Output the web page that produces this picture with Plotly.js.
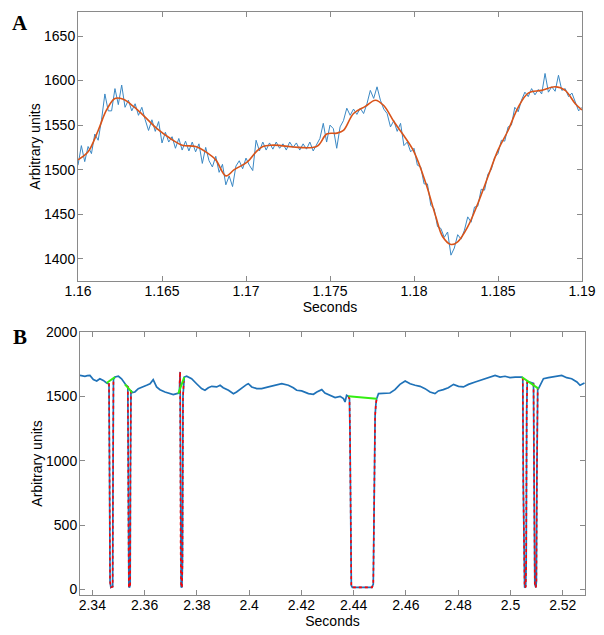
<!DOCTYPE html>
<html>
<head>
<meta charset="utf-8">
<script src="https://cdn.plot.ly/plotly-3.0.1.min.js"></script>
<style>html,body{margin:0;padding:0;background:#fff;}</style>
</head>
<body>
<div id="chart" style="width:604px;height:635px;"></div>
<script>
// ---------- Panel A: raw signal (sampled every 0.2 ms from 1.16 s) ----------
const panelASampleStart = 1.16;
const panelASampleStep = 0.0002;
const panelARaw = [
  1505,1527,1509,1526,1518,1540,1533,1556,1585,1566,
  1566,1591,1573,1595,1570,1578,1566,1574,1561,1570,
  1556,1544,1556,1543,1554,1530,1542,1531,1537,1524,
  1535,1522,1532,1521,1531,1520,1529,1507,1525,1510,
  1503,1515,1497,1506,1483,1493,1481,1504,1510,1501,
  1513,1505,1499,1533,1521,1531,1522,1530,1523,1531,
  1524,1529,1522,1531,1525,1530,1522,1529,1523,1531,
  1521,1528,1535,1552,1531,1550,1546,1524,1548,1555,
  1569,1561,1568,1562,1569,1563,1574,1589,1580,1593,
  1578,1568,1563,1548,1555,1543,1552,1527,1531,1520,
  1524,1505,1503,1484,1484,1460,1456,1436,1434,1424,
  1430,1404,1412,1427,1422,1432,1447,1441,1458,1459,
  1478,1477,1495,1500,1514,1518,1533,1532,1548,1550,
  1570,1565,1578,1587,1582,1591,1584,1590,1585,1608,
  1587,1593,1588,1606,1589,1591,1582,1586,1575,1566,
  1570
];
// ---------- Panel A: smooth fit ----------
const panelAFitTime = [
  1.1600,1.1606,1.1612,1.1617,1.1622,1.1627,1.1633,1.1640,1.1647,1.1655,
  1.1662,1.1670,1.1676,1.1682,1.1688,1.1693,1.1701,1.1706,1.1710,1.1716,
  1.1742,1.1748,1.1754,1.1758,1.1764,1.1771,1.1777,1.1782,1.1788,1.1794,
  1.1800,1.1807,1.1813,1.1817,1.1822,1.1826,1.1832,1.1838,1.1844,1.1850,
  1.1856,1.1862,1.1868,1.1876,1.1884,1.1890,1.1896,1.1900
];
const panelAFitValue = [
  1511,1520,1544,1567,1580,1579,1571,1559,1546,1535,
  1527.5,1526,1520,1511,1493,1500,1509,1520,1526,1527.5,
  1526,1540,1541,1544,1563,1571,1578,1572,1554,1538,
  1520,1485,1447,1425,1416,1419,1436,1462,1492,1522,
  1544,1570,1586,1589,1593,1589,1574,1567
];
const panelATickVals = [1.16,1.165,1.17,1.175,1.18,1.185,1.19];
const panelATickText = ['1.16','1.165','1.17','1.175','1.18','1.185','1.19'];
const panelAYTicks = [1400,1450,1500,1550,1600,1650];

// ---------- Panel B: signal with dropouts ----------
const panelBTime = [
  2.3353,2.3362,2.3372,2.3381,2.3391,2.3404,2.3417,2.3429,2.3442,2.3455,2.3460,2.3464,
  2.3466,2.3468,2.3471,2.3475,2.3478,2.3479,2.3481,
  2.3487,2.3500,2.3512,2.3525,2.3530,2.3536,
  2.3538,2.3540,2.3543,2.3545,2.3546,2.3548,
  2.3553,2.3563,2.3576,2.3589,2.3608,2.3621,2.3633,2.3646,2.3659,2.3678,2.3697,2.3710,2.3723,2.3729,
  2.3733,2.3736,2.3738,2.3740,2.3743,2.3745,2.3747,
  2.3752,2.3761,2.3780,2.3799,2.3818,2.3831,2.3844,2.3857,2.3876,2.3889,2.3901,2.3921,2.3940,2.3952,2.3972,2.3991,
  2.3997,2.4010,2.4029,2.4048,2.4074,2.4099,2.4125,2.4150,2.4169,2.4182,2.4201,2.4227,2.4246,2.4259,2.4278,2.4290,2.4310,2.4329,2.4348,2.4361,2.4367,2.4373,2.4380,
  2.4384,2.4386,2.4388,2.4391,2.4395,2.4430,2.4470,2.4475,2.4477,2.4479,2.4482,2.4485,2.4488,
  2.4495,2.4514,2.4539,2.4558,2.4577,2.4597,2.4616,2.4635,2.4654,2.4673,2.4692,2.4711,2.4724,2.4743,2.4762,2.4782,2.4801,2.4820,2.4839,2.4865,2.4884,2.4903,2.4922,2.4941,2.4960,2.4979,2.4998,2.5018,2.5043,
  2.5047,2.5049,2.5051,2.5054,2.5058,2.5060,2.5062,2.5064,2.5070,2.5080,2.5088,
  2.5090,2.5093,2.5097,2.5099,2.5101,2.5104,
  2.5107,2.5117,2.5126,2.5145,2.5171,2.5196,2.5215,2.5234,2.5254,2.5266,2.5283
];
const panelBValue = [
  1663,1660,1656,1661,1663,1630,1619,1637,1624,1604,1600,1596,
  900,60,15,18,20,700,1630,
  1650,1656,1637,1593,1585,1575,
  600,20,15,40,900,1545,
  1529,1534,1560,1573,1586,1598,1630,1573,1552,1534,1521,1513,1521,1521,
  1525,1690,300,20,15,200,1500,
  1650,1656,1637,1598,1560,1547,1567,1578,1573,1586,1567,1547,1521,1534,1567,1593,
  1598,1573,1560,1560,1573,1586,1598,1586,1567,1547,1542,1521,1516,1534,1552,1526,1508,1490,1500,1482,1456,1508,1500,
  1480,1200,200,30,15,15,15,40,400,1100,1350,1440,1482,
  1521,1521,1526,1552,1593,1619,1598,1586,1578,1560,1534,1521,1542,1552,1567,1593,1578,1573,1593,1612,1624,1637,1645,1663,1650,1656,1645,1650,1650,
  1640,800,60,15,20,200,1400,1615,1612,1605,1600,
  900,40,15,60,900,1560,
  1560,1598,1637,1645,1656,1663,1645,1637,1612,1586,1604
];
// detected dropout samples (red), null separates events
const dropTime = [
  2.3462,2.3464,2.3466,2.3468,2.3471,2.3475,2.3478,2.3479,2.3481,null,
  2.3533,2.3536,2.3538,2.3540,2.3543,2.3545,2.3546,2.3548,null,
  2.3734,2.3736,2.3738,2.3740,2.3743,2.3745,2.3747,2.3750,null,
  2.4380,2.4384,2.4386,2.4388,2.4391,2.4395,2.4430,2.4470,2.4475,2.4477,2.4479,2.4482,2.4485,2.4488,null,
  2.5045,2.5047,2.5049,2.5051,2.5054,2.5058,2.5060,2.5062,2.5064,null,
  2.5088,2.5090,2.5093,2.5097,2.5099,2.5101,2.5104
];
const dropValue = [
  1598,1596,900,60,15,18,20,700,1630,null,
  1580,1575,600,20,15,40,900,1545,null,
  1600,1690,300,20,15,200,1500,1620,null,
  1500,1480,1200,200,30,15,15,15,40,400,1100,1350,1440,1482,null,
  1645,1640,800,60,15,20,200,1400,1615,null,
  1600,900,40,15,60,900,1560
];
// bridging segments (green)
const bridgeTime = [2.3455,2.3487,null,2.3525,2.3553,null,2.3729,2.3752,null,2.4380,2.4488,null,2.5043,2.5107];
const bridgeValue = [1604,1650,null,1593,1529,null,1521,1650,null,1500,1482,null,1650,1560];
const panelBTickVals = [2.34,2.36,2.38,2.4,2.42,2.44,2.46,2.48,2.5,2.52];
const panelBTickText = ['2.34','2.36','2.38','2.4','2.42','2.44','2.46','2.48','2.5','2.52'];
const panelBYTicks = [0,500,1000,1500,2000];

const panelATime = panelARaw.map((_, i) => +(panelASampleStart + i * panelASampleStep).toFixed(5));

const traces = [
  {x: panelATime, y: panelARaw, xaxis:'x', yaxis:'y', mode:'lines', line:{color:'#3a88c4', width:1}, hoverinfo:'skip'},
  {x: panelAFitTime, y: panelAFitValue, xaxis:'x', yaxis:'y', mode:'lines', line:{color:'#D95319', width:1.6, shape:'spline'}, hoverinfo:'skip'},
  {x: panelBTime, y: panelBValue, xaxis:'x2', yaxis:'y2', mode:'lines', line:{color:'#1f72b8', width:1.7}, hoverinfo:'skip'},
  {x: dropTime, y: dropValue, xaxis:'x2', yaxis:'y2', mode:'lines', connectgaps:false, line:{color:'#ff0000', width:1.6, dash:'dot'}, hoverinfo:'skip'},
  {x: bridgeTime, y: bridgeValue, xaxis:'x2', yaxis:'y2', mode:'lines', connectgaps:false, line:{color:'#33ee11', width:2}, hoverinfo:'skip'}
];

const axisCommon = {
  showline:true, linecolor:'#8a8a8a', linewidth:1, mirror:'ticks',
  ticks:'inside', ticklen:5, tickcolor:'#8a8a8a', tickwidth:1,
  showgrid:false, zeroline:false,
  tickfont:{family:'Liberation Sans, Arial, sans-serif', size:14, color:'#000'}
};
const titleFont = {family:'Liberation Sans, Arial, sans-serif', size:14, color:'#000'};

const layout = {
  width:604, height:635,
  margin:{l:78, r:19, t:12, b:40},
  paper_bgcolor:'#fff', plot_bgcolor:'#fff',
  showlegend:false,
  xaxis: Object.assign({}, axisCommon, {
    domain:[0, 504/507], range:[1.16, 1.19], anchor:'y',
    tickmode:'array', tickvals:panelATickVals, ticktext:panelATickText,
    ticklabelstandoff:-3,
    title:{text:'Seconds', font:titleFont, standoff:0}
  }),
  yaxis: Object.assign({}, axisCommon, {
    domain:[0.5386, 1], range:[1375, 1677], anchor:'x',
    tickmode:'array', tickvals:panelAYTicks, ticklabelstandoff:-1,
    title:{text:'Arbitrary units', font:titleFont, standoff:0}
  }),
  xaxis2: Object.assign({}, axisCommon, {
    domain:[2/507, 1], range:[2.3353, 2.5285], anchor:'y2',
    tickmode:'array', tickvals:panelBTickVals, ticktext:panelBTickText,
    ticklabelstandoff:-3,
    title:{text:'Seconds', font:titleFont, standoff:0}
  }),
  yaxis2: Object.assign({}, axisCommon, {
    domain:[0, 0.4511], range:[-44, 2000], anchor:'x2',
    tickmode:'array', tickvals:panelBYTicks, ticklabelstandoff:-1,
    title:{text:'Arbitrary units', font:titleFont, standoff:0}
  }),
  annotations:[
    {text:'<b>A</b>', xref:'paper', yref:'paper', x:-0.1144, y:0.9803, xanchor:'center', yanchor:'middle', showarrow:false, font:{family:'Liberation Serif, Times New Roman, serif', size:21, color:'#000'}},
    {text:'<b>B</b>', xref:'paper', yref:'paper', x:-0.1144, y:0.4417, xanchor:'center', yanchor:'middle', showarrow:false, font:{family:'Liberation Serif, Times New Roman, serif', size:21, color:'#000'}}
  ]
};

Plotly.newPlot('chart', traces, layout, {staticPlot:true, displayModeBar:false});
</script>
</body>
</html>
